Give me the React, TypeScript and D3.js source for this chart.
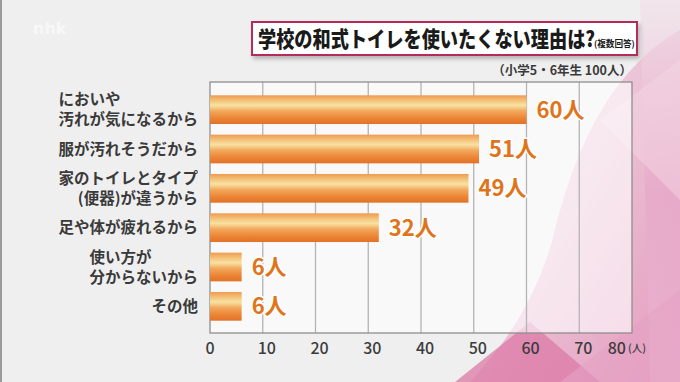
import React from "react";
import * as d3 from "d3";

const categories: string[][] = [
  ["においや", "汚れが気になるから"],
  ["服が汚れそうだから"],
  ["家のトイレとタイプ", "(便器)が違うから"],
  ["足や体が疲れるから"],
  ["使い方が", "分からないから"],
  ["その他"],
];
// alignment of each label line inside its block: "s" = left of block, "e" = right
const lineAlign: string[][] = [["s", "e"], ["e"], ["e", "e"], ["e"], ["s", "e"], ["e"]];
const values: number[] = [60, 51, 49, 32, 6, 6];
const valueLabels: string[] = ["60人", "51人", "49人", "32人", "6人", "6人"];
const ticks: number[] = [0, 10, 20, 30, 40, 50, 60, 70, 80];
const title = "学校の和式トイレを使いたくない理由は?";
const titleNote = "(複数回答)";
const subtitle = "（小学5・6年生  100人）";
const unit = "(人)";

const W = 680;
const H = 382;
const FONT = "'Noto Sans CJK JP', 'Noto Sans', sans-serif";

export default function App() {
  const plot = { left: 210, right: 632, top: 82, bottom: 333 };
  const x = d3.scaleLinear().domain([0, 80]).range([plot.left, plot.right]);
  const y = d3
    .scaleBand<number>()
    .domain(d3.range(values.length))
    .range([90, 326])
    .paddingInner(0.27)
    .paddingOuter(0.135);
  const labelRight = 198;
  const labelSize = 15.5;

  return (
    <svg
      width={W}
      height={H}
      style={{ position: "absolute", left: 0, top: 0, display: "block" }}
      fontFamily={FONT}
    >
      <defs>
        <linearGradient id="barGrad" x1="0" y1="0" x2="0" y2="1">
          <stop offset="0" stopColor="#ee9a52" />
          <stop offset="0.12" stopColor="#f2b56a" />
          <stop offset="0.35" stopColor="#f8e2a2" />
          <stop offset="0.55" stopColor="#f2a85c" />
          <stop offset="0.8" stopColor="#eb8434" />
          <stop offset="1" stopColor="#e2722a" />
        </linearGradient>
        <linearGradient id="pinkBig" x1="0" y1="0" x2="1" y2="1">
          <stop offset="0" stopColor="#f6e4ee" />
          <stop offset="0.5" stopColor="#eab8d0" />
          <stop offset="1" stopColor="#e28cb4" />
        </linearGradient>
        <linearGradient id="pinkRight" x1="0" y1="0" x2="0" y2="1">
          <stop offset="0" stopColor="#f2e2ea" />
          <stop offset="0.5" stopColor="#e6a8c8" />
          <stop offset="1" stopColor="#eab6d0" />
        </linearGradient>
        <filter id="shadow" x="-5%" y="-20%" width="110%" height="160%">
          <feDropShadow dx="2" dy="3" stdDeviation="2" floodColor="#000" floodOpacity="0.25" />
        </filter>
      </defs>

      {/* background */}
      <rect x={0} y={0} width={W} height={H} fill="#efefef" />
      <rect x={0} y={0} width={2} height={H} fill="#9a9a9a" />
      <text x={33} y={34} fontSize={16} fontWeight={700} fill="#ffffff" opacity={0.55} fontFamily="'DejaVu Sans', sans-serif">
        nhk
      </text>

      {/* pink decoration */}
      <path d="M 680,30 C 610,70 575,150 555,230 C 540,290 510,340 470,382 L 680,382 Z" fill="url(#pinkBig)" opacity={0.85} />
      <path d="M 640,0 L 680,0 L 680,382 L 650,382 Z" fill="url(#pinkRight)" opacity={0.7} />
      <path d="M 455,382 L 530,322 L 600,382 Z" fill="#dc7aa6" opacity={0.75} />
      <path d="M 560,382 L 680,290 L 680,382 Z" fill="#e6a2c4" opacity={0.6} />
      <path d="M 600,120 L 680,60 L 680,200 Z" fill="#f3d6e4" opacity={0.5} />

      {/* plot area */}
      <rect
        x={plot.left}
        y={plot.top}
        width={plot.right - plot.left}
        height={plot.bottom - plot.top}
        fill="#ffffff"
        fillOpacity={0.62}
      />
      {ticks.slice(1, -1).map((t) => (
        <line key={t} x1={x(t)} x2={x(t)} y1={plot.top} y2={plot.bottom} stroke="#b4b4b4" strokeWidth={1.3} />
      ))}
      <rect
        x={plot.left}
        y={plot.top}
        width={plot.right - plot.left}
        height={plot.bottom - plot.top}
        fill="none"
        stroke="#8e8e8e"
        strokeWidth={1.3}
      />

      {/* bars */}
      {values.map((v, i) => (
        <rect
          key={i}
          x={x(0)}
          y={y(i)}
          width={x(v) - x(0)}
          height={y.bandwidth()}
          fill="url(#barGrad)"
        />
      ))}

      {/* value labels */}
      {values.map((v, i) => (
        <text
          key={i}
          x={x(v) + 10}
          y={(y(i) as number) + y.bandwidth() / 2}
          dy="0.36em"
          fontSize={22}
          fontWeight={700}
          fill="#e0741a"
          stroke="#ffffff"
          strokeWidth={3}
          paintOrder="stroke"
          strokeLinejoin="round"
        >
          {valueLabels[i]}
        </text>
      ))}

      {/* category labels */}
      {categories.map((lines, i) => {
        const cy = (y(i) as number) + y.bandwidth() / 2;
        const maxLen = d3.max(lines, (l) => l.length) as number;
        const lh = 20;
        return lines.map((line, j) => {
          const ly = cy + (j - (lines.length - 1) / 2) * lh;
          const left = lineAlign[i][j] === "s";
          return (
            <text
              key={`${i}-${j}`}
              x={left ? labelRight - maxLen * labelSize : labelRight}
              y={ly}
              dy="0.36em"
              textAnchor={left ? "start" : "end"}
              fontSize={labelSize}
              fontWeight={700}
              fill="#3a3a3a"
            >
              {line}
            </text>
          );
        });
      })}

      {/* x tick labels */}
      {ticks.map((t, i) => {
        const last = i === ticks.length - 1;
        return (
          <text
            key={t}
            x={last ? x(t) - 6 : x(t) + (t === 0 ? 0 : 4)}
            y={348}
            dy="0.36em"
            textAnchor={last ? "end" : "middle"}
            fontSize={16}
            fontWeight={500}
            fill="#3c3c3c"
          >
            {t}
          </text>
        );
      })}
      <text x={x(80) - 4} y={348} dy="0.36em" fontSize={10.5} fontWeight={500} fill="#3c3c3c">
        {unit}
      </text>

      {/* title box */}
      <rect x={252} y={22} width={385} height={33} fill="#ffffff" stroke="#b82a5c" strokeWidth={2} filter="url(#shadow)" />
      <g transform="translate(258,39) scale(1,1.18)">
        <text x={0} y={0} dy="0.36em" fontSize={18.2} fontWeight={900} fill="#1a1a1a">
          {title}
        </text>
      </g>
      <text x={594} y={44} dy="0.36em" fontSize={8.6} fontWeight={700} fill="#1a1a1a">
        {titleNote}
      </text>
      <text x={632} y={70} dy="0.36em" textAnchor="end" fontSize={12.5} fontWeight={700} fill="#3a3a3a">
        {subtitle}
      </text>
    </svg>
  );
}
